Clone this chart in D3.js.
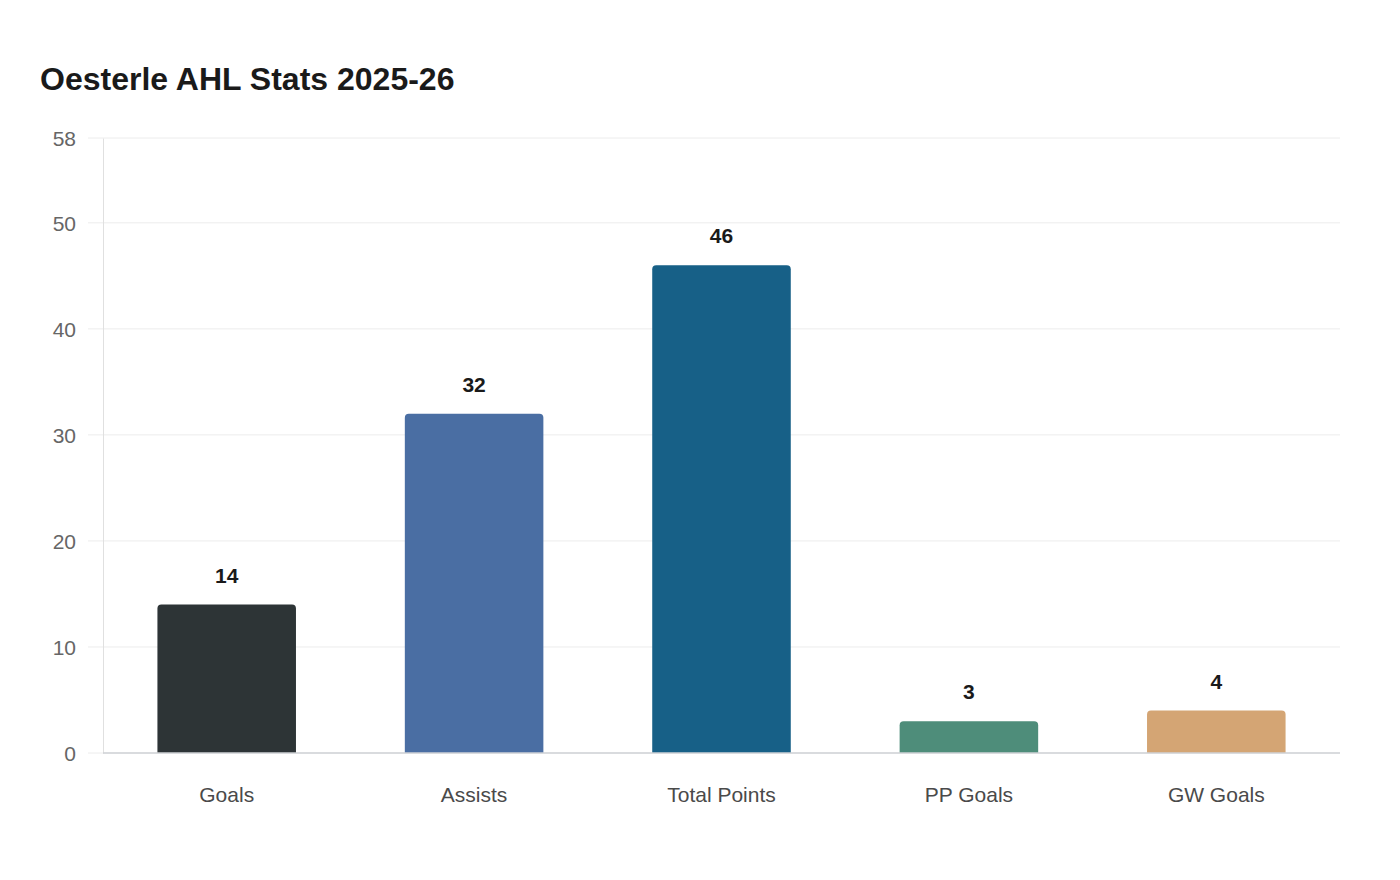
<!DOCTYPE html>
<html>
<head>
<meta charset="utf-8">
<script src="https://cdn.jsdelivr.net/npm/d3@7"></script>
<style>
  body { margin: 0; background: #fff; font-family: "Liberation Sans", Arial, sans-serif; }
  .y-axis .domain { stroke: #e0e0e0; }
  .y-axis text { fill: #666; font-size: 21px; }
  .x-axis text { fill: #4a4a4a; font-size: 21px; }
  .grid line { stroke: #ececec; }
</style>
</head>
<body>
<div id="chart"></div>
<script>
const categories = ["Goals", "Assists", "Total Points", "PP Goals", "GW Goals"];
const values = [14, 32, 46, 3, 4];
const barColors = ["#2d3436", "#4a6ea3", "#176087", "#4e8d7a", "#d4a574"];
const yTicks = [0, 10, 20, 30, 40, 50, 58];

const width = 1400, height = 880;
const margin = { top: 138, right: 60, bottom: 127, left: 103 };
const innerW = width - margin.left - margin.right;
const innerH = height - margin.top - margin.bottom;

const svg = d3.select("#chart").append("svg")
    .attr("width", width)
    .attr("height", height);

svg.append("text")
    .attr("x", 40)
    .attr("y", 90)
    .style("font-size", "32px")
    .style("font-weight", "bold")
    .style("fill", "#1a1a1a")
    .text("Oesterle AHL Stats 2025-26");

const g = svg.append("g")
    .attr("transform", `translate(${margin.left},${margin.top})`);

const x = d3.scaleBand()
    .domain(categories)
    .range([0, innerW])
    .paddingInner(0.44)
    .paddingOuter(0.22);

const y = d3.scaleLinear()
    .domain([0, 58])
    .range([innerH, 0]);

// gridlines
g.append("g")
    .attr("class", "grid")
    .selectAll("line")
    .data(yTicks)
    .join("line")
    .attr("x1", -15)
    .attr("x2", innerW)
    .attr("y1", d => y(d))
    .attr("y2", d => y(d));

// y axis
const yAxis = g.append("g")
    .attr("class", "y-axis")
    .call(d3.axisLeft(y).tickValues(yTicks).tickSize(0).tickPadding(27));
yAxis.selectAll("text").attr("dy", "0.35em");

// bars with rounded tops
const r = 4;
g.selectAll(".bar")
    .data(categories)
    .join("path")
    .attr("class", "bar")
    .attr("fill", (d, i) => barColors[i])
    .attr("d", (d, i) => {
        const x0 = x(d), w = x.bandwidth();
        const y0 = y(values[i]), b = y(0);
        return `M${x0},${b}V${y0 + r}Q${x0},${y0} ${x0 + r},${y0}H${x0 + w - r}Q${x0 + w},${y0} ${x0 + w},${y0 + r}V${b}Z`;
    });

// value labels
g.selectAll(".val")
    .data(categories)
    .join("text")
    .attr("class", "val")
    .attr("x", d => x(d) + x.bandwidth() / 2)
    .attr("y", (d, i) => y(values[i]) - 22)
    .attr("text-anchor", "middle")
    .style("font-size", "21px")
    .style("font-weight", "bold")
    .style("fill", "#1a1a1a")
    .text((d, i) => values[i]);

// baseline
g.append("line")
    .attr("x1", 0)
    .attr("x2", innerW)
    .attr("y1", innerH)
    .attr("y2", innerH)
    .attr("stroke", "#cfd2d6")
    .attr("stroke-width", 1.5);

// x axis labels
const xAxis = g.append("g")
    .attr("class", "x-axis")
    .attr("transform", `translate(0,${innerH})`)
    .call(d3.axisBottom(x).tickSize(0).tickPadding(34));
xAxis.select(".domain").remove();
</script>
</body>
</html>
